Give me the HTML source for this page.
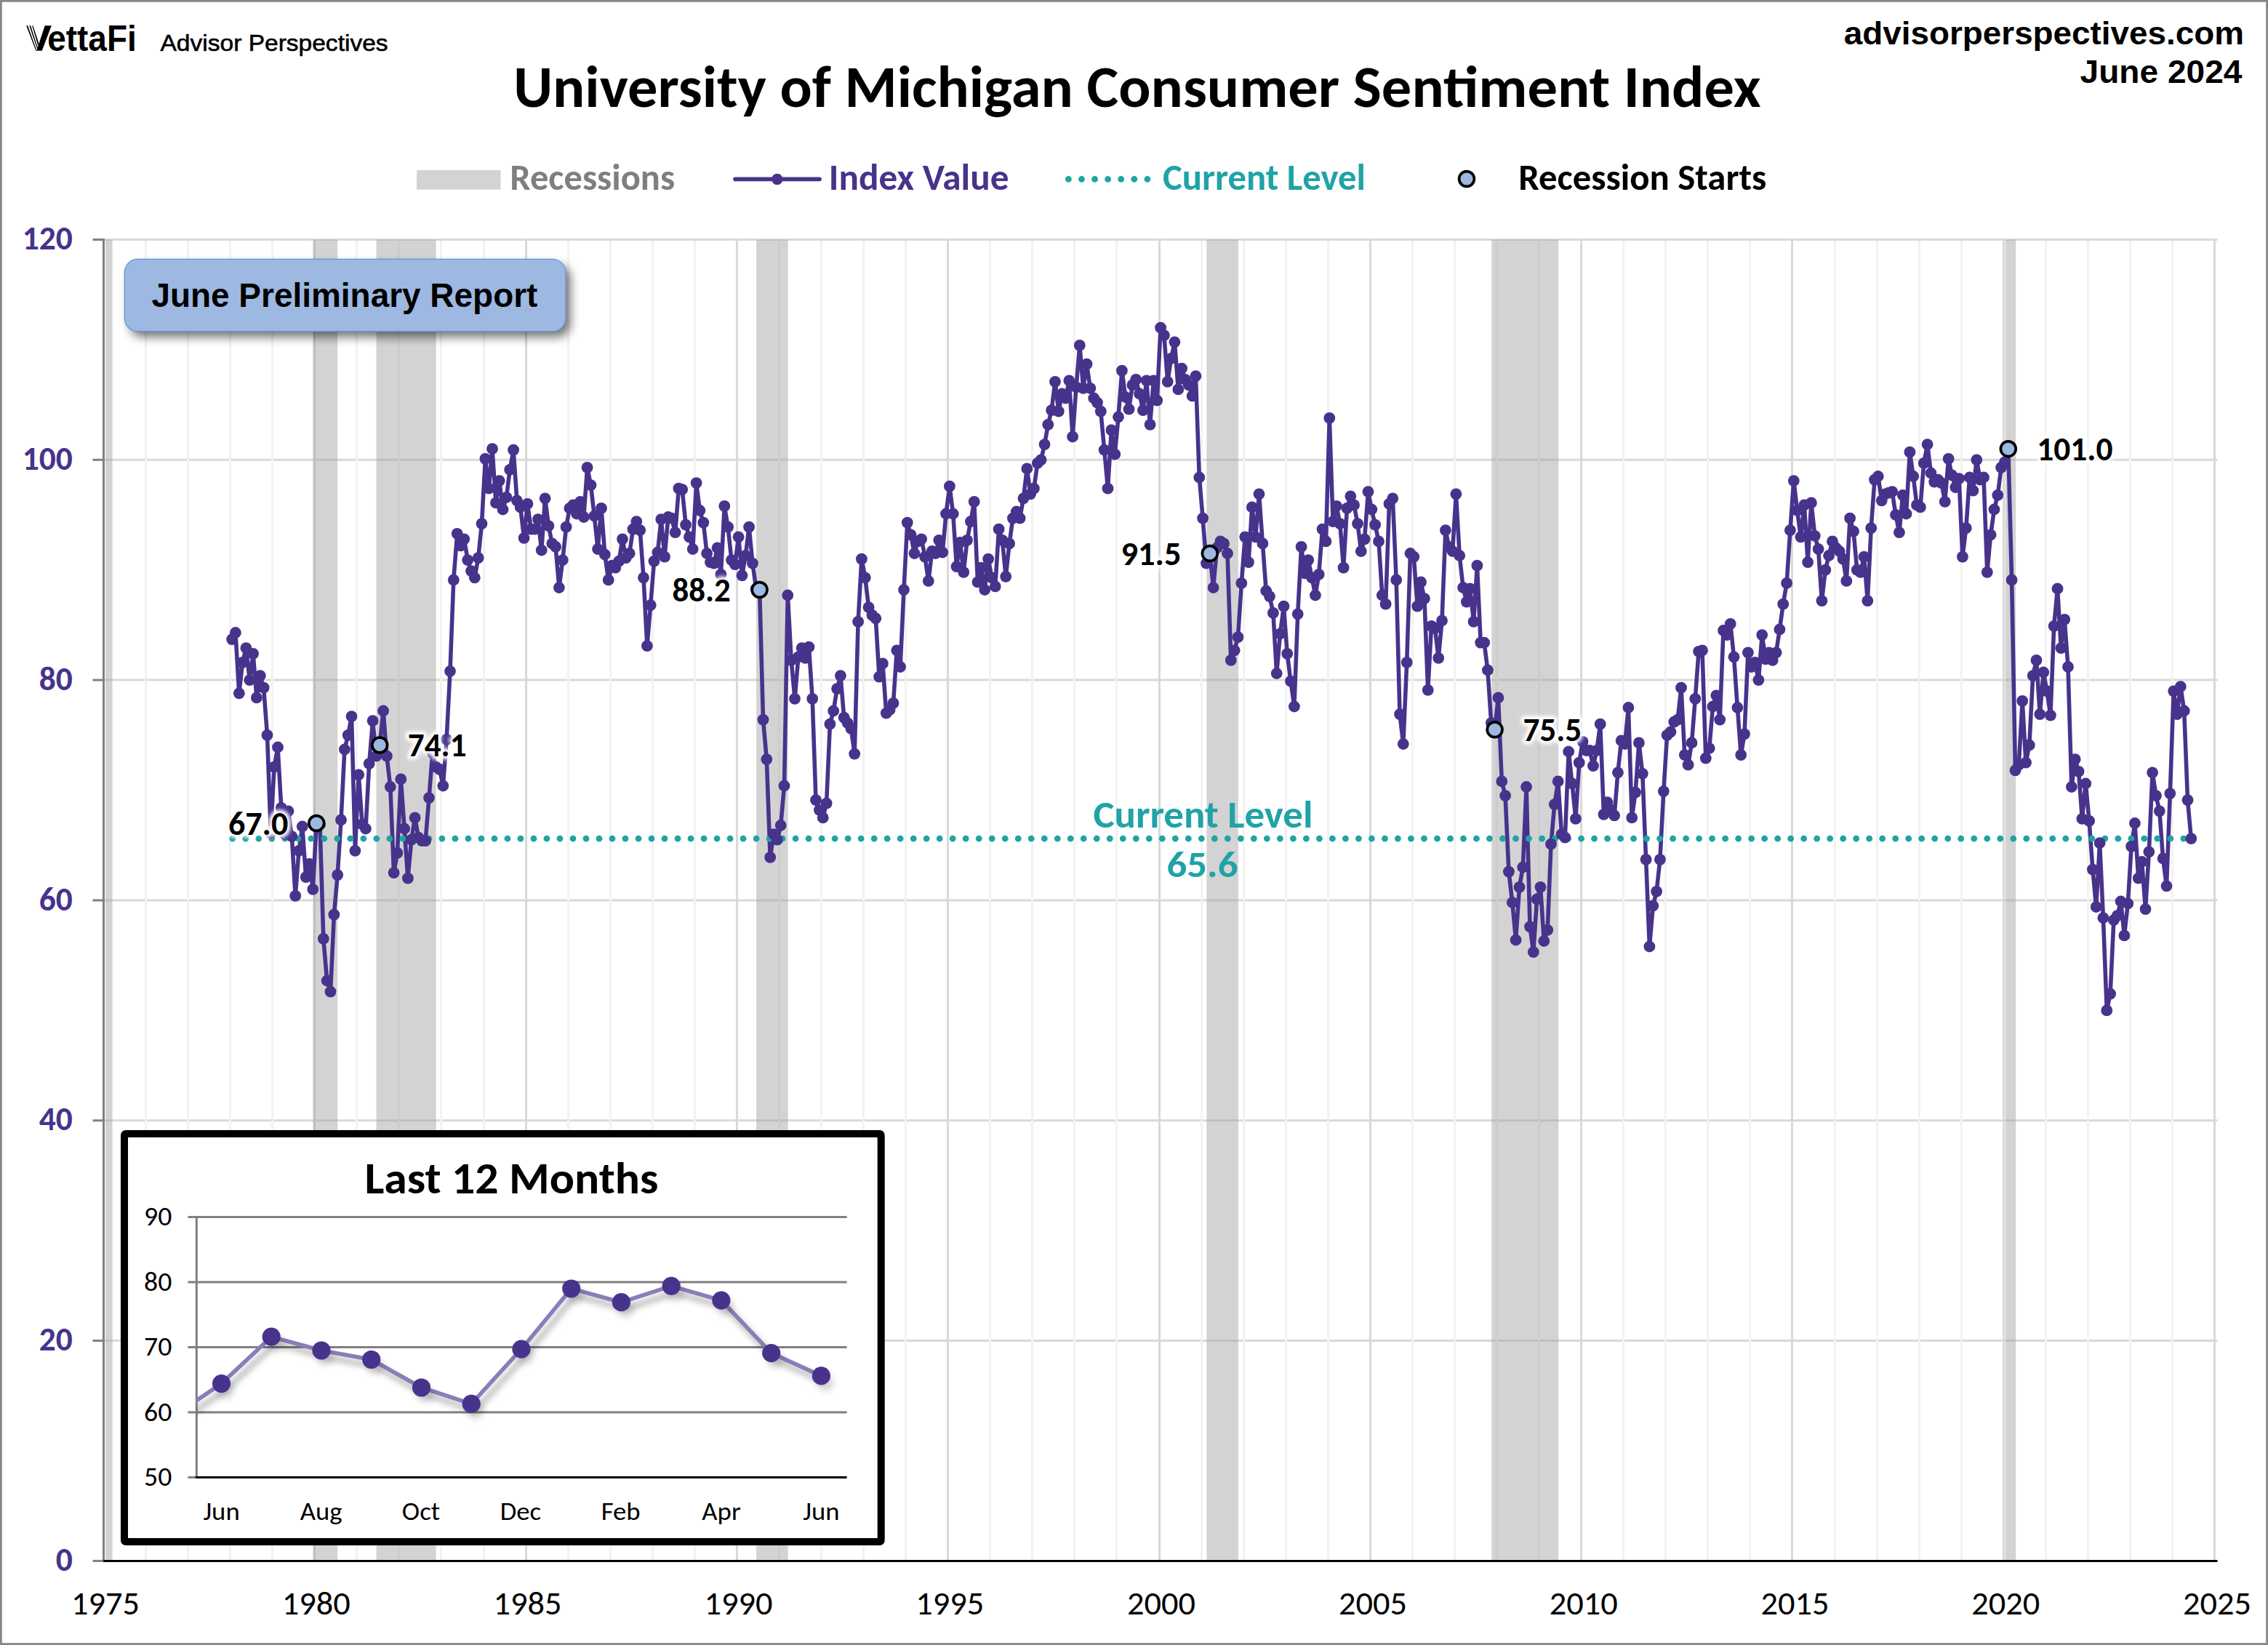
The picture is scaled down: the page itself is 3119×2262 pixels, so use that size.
<!DOCTYPE html>
<html lang="en"><head><meta charset="utf-8"><title>University of Michigan Consumer Sentiment Index</title>
<style>
html,body{margin:0;padding:0;background:#fff;}
body{width:3119px;height:2262px;overflow:hidden;}
svg{display:block;}
text{white-space:pre;}
.cal{font-family:Carlito, 'Liberation Sans', sans-serif;}
.ari{font-family:'Liberation Sans', sans-serif;}
.b{font-weight:700;}
</style></head><body>
<svg width="3119" height="2262" viewBox="0 0 3119 2262">
<defs>
<filter id="glow" x="-20%" y="-40%" width="140%" height="180%"><feGaussianBlur stdDeviation="2.6"/></filter>
<filter id="bshadow" x="-10%" y="-40%" width="120%" height="190%"><feGaussianBlur stdDeviation="7"/></filter>
<filter id="lshadow" x="-5%" y="-20%" width="110%" height="150%"><feGaussianBlur stdDeviation="4.5"/></filter>
<marker id="dot" markerWidth="17" markerHeight="17" refX="8.5" refY="8.5" markerUnits="userSpaceOnUse"><circle cx="8.5" cy="8.5" r="7.9" fill="#47338c"/></marker>
<clipPath id="insetclip"><rect x="270.3" y="1660" width="900" height="371.5"/></clipPath>

<polyline id="pl" points="319.1,879.1 323.9,870.0 328.8,953.3 333.6,910.9 338.4,891.2 343.3,935.1 348.1,898.8 352.9,959.4 357.8,929.1 362.6,945.7 367.5,1010.8 372.3,1145.6 377.1,1054.7 382.0,1027.5 386.8,1110.8 391.6,1147.1 396.5,1115.3 401.3,1150.1 406.2,1231.9 411.0,1169.8 415.8,1136.5 420.7,1206.2 425.5,1188.0 430.3,1222.8 435.2,1132.0 440.0,1133.5 444.8,1290.9 449.7,1348.5 454.5,1363.6 459.4,1257.6 464.2,1203.1 469.0,1127.4 473.9,1030.5 478.7,1010.8 483.5,985.1 488.4,1169.8 493.2,1065.3 498.1,1133.5 502.9,1139.5 507.7,1050.2 512.6,991.2 517.4,1039.6 522.2,1024.5 527.1,977.5 531.9,1039.6 536.8,1082.0 541.6,1200.1 546.4,1172.8 551.3,1071.4 556.1,1139.5 560.9,1207.7 565.8,1154.7 570.6,1124.4 575.5,1151.6 580.3,1156.2 585.1,1156.2 590.0,1097.1 594.8,1035.1 599.6,1054.7 604.5,1057.8 609.3,1080.5 614.1,1016.9 619.0,923.0 623.8,797.4 628.7,733.8 633.5,750.4 638.3,741.3 643.2,770.1 648.0,785.2 652.8,794.3 657.7,767.1 662.5,720.1 667.4,630.8 672.2,671.7 677.0,617.2 681.9,691.4 686.7,661.1 691.5,700.5 696.4,683.8 701.2,645.9 706.1,618.7 710.9,688.3 715.7,697.4 720.6,739.8 725.4,692.9 730.2,727.7 735.1,727.7 739.9,714.1 744.7,756.5 749.6,685.3 754.4,723.2 759.3,747.4 764.1,751.9 768.9,808.0 773.8,770.1 778.6,724.7 783.4,698.9 788.3,694.4 793.1,706.5 798.0,689.9 802.8,711.0 807.6,642.9 812.5,667.1 817.3,709.5 822.1,755.0 827.0,698.9 831.8,762.5 836.7,797.4 841.5,777.7 846.3,780.7 851.2,771.6 856.0,741.3 860.8,767.1 865.7,761.0 870.5,727.7 875.3,717.1 880.2,729.2 885.0,794.3 889.9,888.2 894.7,832.2 899.5,771.6 904.4,759.5 909.2,714.1 914.0,765.6 918.9,711.0 923.7,712.6 928.6,732.2 933.4,671.7 938.2,673.2 943.1,721.6 947.9,738.3 952.7,755.0 957.6,664.1 962.4,702.0 967.3,718.6 972.1,761.0 976.9,773.1 981.8,774.6 986.6,753.4 991.4,789.8 996.3,695.9 1001.1,724.7 1006.0,770.1 1010.8,776.2 1015.6,738.3 1020.5,791.3 1025.3,764.0 1030.1,724.7 1035.0,774.6 1039.8,809.5 1044.6,811.0 1049.5,989.6 1054.3,1044.1 1059.2,1178.9 1064.0,1147.1 1068.8,1154.7 1073.7,1135.0 1078.5,1080.5 1083.3,818.5 1088.2,907.9 1093.0,960.9 1097.9,903.3 1102.7,891.2 1107.5,904.9 1112.4,889.7 1117.2,960.9 1122.0,1100.2 1126.9,1113.8 1131.7,1124.4 1136.6,1104.7 1141.4,995.7 1146.2,977.5 1151.1,947.2 1155.9,929.1 1160.7,986.6 1165.6,994.2 1170.4,1001.8 1175.2,1036.6 1180.1,854.9 1184.9,768.6 1189.8,794.3 1194.6,835.2 1199.4,845.8 1204.3,850.3 1209.1,930.6 1213.9,912.4 1218.8,980.6 1223.6,976.0 1228.5,966.9 1233.3,894.3 1238.1,917.0 1243.0,811.0 1247.8,718.6 1252.6,735.3 1257.5,761.0 1262.3,744.4 1267.2,741.3 1272.0,765.6 1276.8,798.9 1281.7,758.0 1286.5,761.0 1291.3,742.8 1296.2,759.5 1301.0,706.5 1305.9,668.7 1310.7,706.5 1315.5,779.2 1320.4,745.9 1325.2,786.8 1330.0,742.8 1334.9,717.1 1339.7,689.9 1344.5,800.4 1349.4,780.7 1354.2,811.0 1359.1,768.6 1363.9,794.3 1368.7,806.4 1373.6,727.7 1378.4,742.8 1383.2,792.8 1388.1,747.4 1392.9,712.6 1397.8,703.5 1402.6,712.6 1407.4,685.3 1412.3,644.4 1417.1,679.3 1421.9,671.7 1426.8,636.9 1431.6,632.3 1436.5,611.1 1441.3,583.9 1446.1,564.2 1451.0,524.8 1455.8,565.7 1460.6,541.5 1465.5,547.5 1470.3,523.3 1475.1,600.5 1480.0,532.4 1484.8,474.9 1489.7,533.9 1494.5,500.6 1499.3,533.9 1504.2,547.5 1509.0,553.6 1513.8,565.7 1518.7,618.7 1523.5,671.7 1528.4,591.4 1533.2,624.7 1538.0,573.3 1542.9,509.7 1547.7,546.0 1552.5,562.7 1557.4,529.4 1562.2,521.8 1567.1,541.5 1571.9,564.2 1576.7,523.3 1581.6,583.9 1586.4,523.3 1591.2,550.6 1596.1,450.6 1600.9,461.2 1605.7,524.8 1610.6,493.0 1615.4,470.3 1620.3,535.4 1625.1,506.6 1629.9,521.8 1634.8,529.4 1639.6,544.5 1644.4,517.2 1649.3,656.5 1654.1,712.6 1659.0,774.6 1663.8,761.0 1668.6,808.0 1673.5,753.4 1678.3,744.4 1683.1,747.4 1688.0,761.0 1692.8,907.9 1697.7,894.3 1702.5,876.1 1707.3,801.9 1712.2,738.3 1717.0,773.1 1721.8,697.4 1726.7,738.3 1731.5,679.3 1736.4,747.4 1741.2,812.5 1746.0,820.1 1750.9,842.8 1755.7,926.0 1760.5,871.5 1765.4,833.7 1770.2,898.8 1775.0,936.6 1779.9,971.5 1784.7,844.3 1789.6,751.9 1794.4,788.3 1799.2,770.1 1804.1,794.3 1808.9,818.5 1813.7,789.8 1818.6,727.7 1823.4,744.4 1828.3,574.8 1833.1,717.1 1837.9,695.9 1842.8,720.1 1847.6,780.7 1852.4,698.9 1857.3,682.3 1862.1,694.4 1867.0,720.1 1871.8,758.0 1876.6,741.3 1881.5,676.2 1886.3,700.5 1891.1,721.6 1896.0,744.4 1900.8,818.5 1905.6,830.7 1910.5,692.9 1915.3,685.3 1920.2,797.4 1925.0,982.1 1929.8,1023.0 1934.7,910.9 1939.5,761.0 1944.3,765.6 1949.2,833.7 1954.0,800.4 1958.9,823.1 1963.7,948.8 1968.5,860.9 1973.4,864.0 1978.2,904.9 1983.0,853.4 1987.9,729.2 1992.7,751.9 1997.6,758.0 2002.4,679.3 2007.2,764.0 2012.1,808.0 2016.9,827.6 2021.7,809.5 2026.6,854.9 2031.4,777.7 2036.2,883.7 2041.1,883.7 2045.9,921.5 2050.8,994.2 2055.6,1003.3 2060.4,959.4 2065.3,1074.4 2070.1,1094.1 2074.9,1198.6 2079.8,1241.0 2084.6,1292.5 2089.5,1219.8 2094.3,1192.5 2099.1,1082.0 2104.0,1274.3 2108.8,1309.1 2113.6,1236.4 2118.5,1219.8 2123.3,1294.0 2128.2,1278.8 2133.0,1160.7 2137.8,1106.2 2142.7,1074.4 2147.5,1147.1 2152.3,1151.6 2157.2,1033.5 2162.0,1077.5 2166.9,1125.9 2171.7,1048.7 2176.5,1019.9 2181.4,1032.0 2186.2,1032.0 2191.0,1053.2 2195.9,1032.0 2200.7,995.7 2205.5,1119.9 2210.4,1103.2 2215.2,1113.8 2220.1,1121.4 2224.9,1062.3 2229.7,1018.4 2234.6,1023.0 2239.4,973.0 2244.2,1124.4 2249.1,1089.6 2253.9,1021.4 2258.8,1063.8 2263.6,1181.9 2268.4,1301.5 2273.3,1245.5 2278.1,1225.8 2282.9,1181.9 2287.8,1088.1 2292.6,1010.8 2297.5,1006.3 2302.3,992.7 2307.1,989.6 2312.0,945.7 2316.8,1038.1 2321.6,1051.7 2326.5,1021.4 2331.3,960.9 2336.1,895.8 2341.0,894.3 2345.8,1042.6 2350.7,1029.0 2355.5,971.5 2360.3,956.3 2365.2,989.6 2370.0,867.0 2374.8,873.1 2379.7,857.9 2384.5,903.3 2389.4,973.0 2394.2,1038.1 2399.0,1009.3 2403.9,897.3 2408.7,917.0 2413.5,910.9 2418.4,935.1 2423.2,873.1 2428.1,906.4 2432.9,897.3 2437.7,907.9 2442.6,897.3 2447.4,865.5 2452.2,830.7 2457.1,801.9 2461.9,729.2 2466.8,661.1 2471.6,702.0 2476.4,738.3 2481.3,694.4 2486.1,773.1 2490.9,691.4 2495.8,736.8 2500.6,755.0 2505.4,826.1 2510.3,783.7 2515.1,764.0 2520.0,744.4 2524.8,753.4 2529.6,758.0 2534.5,768.6 2539.3,798.9 2544.1,712.6 2549.0,730.7 2553.8,783.7 2558.7,786.8 2563.5,765.6 2568.3,826.1 2573.2,726.2 2578.0,659.6 2582.8,655.0 2587.7,688.3 2592.5,679.3 2597.4,677.7 2602.2,676.2 2607.0,708.0 2611.9,732.2 2616.7,680.8 2621.5,706.5 2626.4,621.7 2631.2,655.0 2636.0,694.4 2640.9,697.4 2645.7,636.9 2650.6,611.1 2655.4,650.5 2660.2,662.6 2665.1,659.6 2669.9,664.1 2674.7,689.9 2679.6,630.8 2684.4,653.5 2689.3,670.2 2694.1,658.1 2698.9,765.6 2703.8,726.2 2708.6,656.5 2713.4,674.7 2718.3,632.3 2723.1,659.6 2728.0,656.5 2732.8,786.8 2737.6,735.3 2742.5,700.5 2747.3,680.8 2752.1,642.9 2757.0,635.3 2761.8,617.2 2766.6,797.4 2771.5,1059.3 2776.3,1051.7 2781.2,963.9 2786.0,1048.7 2790.8,1024.5 2795.7,929.1 2800.5,907.9 2805.3,982.1 2810.2,924.5 2815.0,950.3 2819.9,983.6 2824.7,860.9 2829.5,809.5 2834.4,891.2 2839.2,851.9 2844.0,917.0 2848.9,1082.0 2853.7,1044.1 2858.6,1060.8 2863.4,1125.9 2868.2,1077.5 2873.1,1128.9 2877.9,1195.6 2882.7,1247.0 2887.6,1159.2 2892.4,1262.2 2897.3,1389.4 2902.1,1366.6 2906.9,1265.2 2911.8,1259.1 2916.6,1239.5 2921.4,1286.4 2926.3,1242.5 2931.1,1163.8 2935.9,1132.0 2940.8,1207.7 2945.6,1185.0 2950.5,1250.1 2955.3,1171.3 2960.1,1062.3 2965.0,1094.1 2969.8,1115.3 2974.6,1180.4 2979.5,1218.3 2984.3,1091.1 2989.2,950.3 2994.0,982.1 2998.8,944.2 3003.7,977.5 3008.5,1100.2 3013.3,1153.2"/>
</defs>
<rect x="0" y="0" width="3119" height="2262" fill="#ffffff"/>
<rect x="1.4" y="1.4" width="3116.2" height="2259.2" fill="none" stroke="#878787" stroke-width="2.8"/>
<g id="grid" stroke-width="3">
<line x1="144.0" y1="1843.6" x2="3049.5" y2="1843.6" stroke="#d9d9d9"/>
<line x1="144.0" y1="1540.8" x2="3049.5" y2="1540.8" stroke="#d9d9d9"/>
<line x1="144.0" y1="1238.0" x2="3049.5" y2="1238.0" stroke="#d9d9d9"/>
<line x1="144.0" y1="935.1" x2="3049.5" y2="935.1" stroke="#d9d9d9"/>
<line x1="144.0" y1="632.3" x2="3049.5" y2="632.3" stroke="#d9d9d9"/>
<line x1="144.0" y1="329.5" x2="3049.5" y2="329.5" stroke="#d9d9d9"/>
<line x1="200.5" y1="331.0" x2="200.5" y2="2144.9" stroke="#f2f2f2"/>
<line x1="258.5" y1="331.0" x2="258.5" y2="2144.9" stroke="#f2f2f2"/>
<line x1="316.5" y1="331.0" x2="316.5" y2="2144.9" stroke="#f2f2f2"/>
<line x1="374.5" y1="331.0" x2="374.5" y2="2144.9" stroke="#f2f2f2"/>
<line x1="432.5" y1="331.0" x2="432.5" y2="2144.9" stroke="#d9d9d9"/>
<line x1="490.5" y1="331.0" x2="490.5" y2="2144.9" stroke="#f2f2f2"/>
<line x1="548.5" y1="331.0" x2="548.5" y2="2144.9" stroke="#f2f2f2"/>
<line x1="606.5" y1="331.0" x2="606.5" y2="2144.9" stroke="#f2f2f2"/>
<line x1="665.5" y1="331.0" x2="665.5" y2="2144.9" stroke="#f2f2f2"/>
<line x1="723.5" y1="331.0" x2="723.5" y2="2144.9" stroke="#d9d9d9"/>
<line x1="781.5" y1="331.0" x2="781.5" y2="2144.9" stroke="#f2f2f2"/>
<line x1="839.5" y1="331.0" x2="839.5" y2="2144.9" stroke="#f2f2f2"/>
<line x1="897.5" y1="331.0" x2="897.5" y2="2144.9" stroke="#f2f2f2"/>
<line x1="955.5" y1="331.0" x2="955.5" y2="2144.9" stroke="#f2f2f2"/>
<line x1="1013.5" y1="331.0" x2="1013.5" y2="2144.9" stroke="#d9d9d9"/>
<line x1="1071.5" y1="331.0" x2="1071.5" y2="2144.9" stroke="#f2f2f2"/>
<line x1="1129.5" y1="331.0" x2="1129.5" y2="2144.9" stroke="#f2f2f2"/>
<line x1="1187.5" y1="331.0" x2="1187.5" y2="2144.9" stroke="#f2f2f2"/>
<line x1="1245.5" y1="331.0" x2="1245.5" y2="2144.9" stroke="#f2f2f2"/>
<line x1="1303.5" y1="331.0" x2="1303.5" y2="2144.9" stroke="#d9d9d9"/>
<line x1="1361.5" y1="331.0" x2="1361.5" y2="2144.9" stroke="#f2f2f2"/>
<line x1="1419.5" y1="331.0" x2="1419.5" y2="2144.9" stroke="#f2f2f2"/>
<line x1="1477.5" y1="331.0" x2="1477.5" y2="2144.9" stroke="#f2f2f2"/>
<line x1="1535.5" y1="331.0" x2="1535.5" y2="2144.9" stroke="#f2f2f2"/>
<line x1="1594.5" y1="331.0" x2="1594.5" y2="2144.9" stroke="#d9d9d9"/>
<line x1="1652.5" y1="331.0" x2="1652.5" y2="2144.9" stroke="#f2f2f2"/>
<line x1="1710.5" y1="331.0" x2="1710.5" y2="2144.9" stroke="#f2f2f2"/>
<line x1="1768.5" y1="331.0" x2="1768.5" y2="2144.9" stroke="#f2f2f2"/>
<line x1="1826.5" y1="331.0" x2="1826.5" y2="2144.9" stroke="#f2f2f2"/>
<line x1="1884.5" y1="331.0" x2="1884.5" y2="2144.9" stroke="#d9d9d9"/>
<line x1="1942.5" y1="331.0" x2="1942.5" y2="2144.9" stroke="#f2f2f2"/>
<line x1="2000.5" y1="331.0" x2="2000.5" y2="2144.9" stroke="#f2f2f2"/>
<line x1="2058.5" y1="331.0" x2="2058.5" y2="2144.9" stroke="#f2f2f2"/>
<line x1="2116.5" y1="331.0" x2="2116.5" y2="2144.9" stroke="#f2f2f2"/>
<line x1="2174.5" y1="331.0" x2="2174.5" y2="2144.9" stroke="#d9d9d9"/>
<line x1="2232.5" y1="331.0" x2="2232.5" y2="2144.9" stroke="#f2f2f2"/>
<line x1="2290.5" y1="331.0" x2="2290.5" y2="2144.9" stroke="#f2f2f2"/>
<line x1="2348.5" y1="331.0" x2="2348.5" y2="2144.9" stroke="#f2f2f2"/>
<line x1="2406.5" y1="331.0" x2="2406.5" y2="2144.9" stroke="#f2f2f2"/>
<line x1="2464.5" y1="331.0" x2="2464.5" y2="2144.9" stroke="#d9d9d9"/>
<line x1="2523.5" y1="331.0" x2="2523.5" y2="2144.9" stroke="#f2f2f2"/>
<line x1="2581.5" y1="331.0" x2="2581.5" y2="2144.9" stroke="#f2f2f2"/>
<line x1="2639.5" y1="331.0" x2="2639.5" y2="2144.9" stroke="#f2f2f2"/>
<line x1="2697.5" y1="331.0" x2="2697.5" y2="2144.9" stroke="#f2f2f2"/>
<line x1="2755.5" y1="331.0" x2="2755.5" y2="2144.9" stroke="#d9d9d9"/>
<line x1="2813.5" y1="331.0" x2="2813.5" y2="2144.9" stroke="#f2f2f2"/>
<line x1="2871.5" y1="331.0" x2="2871.5" y2="2144.9" stroke="#f2f2f2"/>
<line x1="2929.5" y1="331.0" x2="2929.5" y2="2144.9" stroke="#f2f2f2"/>
<line x1="2987.5" y1="331.0" x2="2987.5" y2="2144.9" stroke="#f2f2f2"/>
<line x1="3045.5" y1="331.0" x2="3045.5" y2="2144.9" stroke="#d9d9d9"/>
</g>
<g id="recessions" fill="#a2a2a2" fill-opacity="0.474">
<rect x="145.0" y="329.5" width="9.6" height="1815.4"/>
<rect x="430.4" y="329.5" width="33.8" height="1815.4"/>
<rect x="517.5" y="329.5" width="82.2" height="1815.4"/>
<rect x="1040.1" y="329.5" width="43.5" height="1815.4"/>
<rect x="1659.4" y="329.5" width="43.5" height="1815.4"/>
<rect x="2051.3" y="329.5" width="91.9" height="1815.4"/>
<rect x="2757.7" y="329.5" width="14.5" height="1815.4"/>
</g>
<g id="axes" stroke="#808080" stroke-width="3">
<line x1="142.5" y1="328.0" x2="142.5" y2="2147.9"/>
<line x1="127.5" y1="2146.4" x2="144.0" y2="2146.4"/>
<line x1="127.5" y1="1843.6" x2="144.0" y2="1843.6"/>
<line x1="127.5" y1="1540.8" x2="144.0" y2="1540.8"/>
<line x1="127.5" y1="1238.0" x2="144.0" y2="1238.0"/>
<line x1="127.5" y1="935.1" x2="144.0" y2="935.1"/>
<line x1="127.5" y1="632.3" x2="144.0" y2="632.3"/>
<line x1="127.5" y1="329.5" x2="144.0" y2="329.5"/>
</g>
<line x1="142.2" y1="2146.4" x2="3049.5" y2="2146.4" stroke="#000" stroke-width="3"/>
<use href="#pl" fill="none" stroke="#47338c" stroke-width="5.6" stroke-linejoin="round" stroke-linecap="round"/>
<line x1="319.8" y1="1153.2" x2="3010" y2="1153.2" stroke="#1fa3a7" stroke-width="8.8" stroke-linecap="round" stroke-dasharray="0 18.007"/>
<use href="#pl" fill="none" stroke="none" marker-start="url(#dot)" marker-mid="url(#dot)" marker-end="url(#dot)"/>
<g id="starts" fill="#9db8e1" stroke="#000" stroke-width="3.7">
<circle cx="435.2" cy="1132.0" r="10.4"/>
<circle cx="522.2" cy="1024.5" r="10.4"/>
<circle cx="1044.6" cy="811.0" r="10.4"/>
<circle cx="1663.8" cy="761.0" r="10.4"/>
<circle cx="2055.6" cy="1003.3" r="10.4"/>
<circle cx="2761.8" cy="617.2" r="10.4"/>
</g>
<g id="labels">
<text x="314.0" y="1147.7" font-size="46" class="cal b" fill="#fff" textLength="82.2" lengthAdjust="spacingAndGlyphs" stroke="#fff" stroke-width="9" stroke-linejoin="round" filter="url(#glow)">67.0</text>
<text x="560.8" y="1040.2" font-size="46" class="cal b" fill="#fff" textLength="80.8" lengthAdjust="spacingAndGlyphs" stroke="#fff" stroke-width="9" stroke-linejoin="round" filter="url(#glow)">74.1</text>
<text x="924.5" y="826.7" font-size="46" class="cal b" fill="#fff" textLength="80.2" lengthAdjust="spacingAndGlyphs" stroke="#fff" stroke-width="9" stroke-linejoin="round" filter="url(#glow)">88.2</text>
<text x="1541.5" y="776.7" font-size="46" class="cal b" fill="#fff" textLength="82.9" lengthAdjust="spacingAndGlyphs" stroke="#fff" stroke-width="9" stroke-linejoin="round" filter="url(#glow)">91.5</text>
<text x="2094.4" y="1019.0" font-size="46" class="cal b" fill="#fff" textLength="80.9" lengthAdjust="spacingAndGlyphs" stroke="#fff" stroke-width="9" stroke-linejoin="round" filter="url(#glow)">75.5</text>
<text x="2801.3" y="632.9" font-size="46" class="cal b" fill="#fff" textLength="104.2" lengthAdjust="spacingAndGlyphs" stroke="#fff" stroke-width="9" stroke-linejoin="round" filter="url(#glow)">101.0</text>
<text x="220.5" y="69.7" font-size="32.2" class="ari" fill="#000" textLength="313.1" lengthAdjust="spacingAndGlyphs" stroke="#000" stroke-width="0.6">Advisor Perspectives</text>
<text x="2535.8" y="60.5" font-size="45" class="ari b" fill="#000" textLength="550.2" lengthAdjust="spacingAndGlyphs">advisorperspectives.com</text>
<text x="2860.6" y="113.7" font-size="45" class="ari b" fill="#000" textLength="222.8" lengthAdjust="spacingAndGlyphs">June 2024</text>
<text x="706.2" y="146.7" font-size="81.5" class="cal b" fill="#000" textLength="1715.4" lengthAdjust="spacingAndGlyphs">University of Michigan Consumer Sentiment Index</text>
<text x="701.2" y="261.1" font-size="49.5" class="cal b" fill="#7f7f7f" textLength="226.9" lengthAdjust="spacingAndGlyphs">Recessions</text>
<text x="1139.8" y="261.2" font-size="49.5" class="cal b" fill="#47338c" textLength="247.7" lengthAdjust="spacingAndGlyphs">Index Value</text>
<text x="1598.9" y="261.1" font-size="49.5" class="cal b" fill="#1fa3a7" textLength="279.0" lengthAdjust="spacingAndGlyphs">Current Level</text>
<text x="2088.2" y="261.2" font-size="49.5" class="cal b" fill="#000" textLength="341.1" lengthAdjust="spacingAndGlyphs">Recession Starts</text>
<text x="1503.4" y="1137.8" font-size="51.5" class="cal b" fill="#1fa3a7" textLength="302.0" lengthAdjust="spacingAndGlyphs">Current Level</text>
<text x="1604.5" y="1205.9" font-size="51.3" class="cal b" fill="#1fa3a7" textLength="98.0" lengthAdjust="spacingAndGlyphs">65.6</text>
<text x="314.0" y="1147.7" font-size="46" class="cal b" fill="#000" textLength="82.2" lengthAdjust="spacingAndGlyphs">67.0</text>
<text x="560.8" y="1040.2" font-size="46" class="cal b" fill="#000" textLength="80.8" lengthAdjust="spacingAndGlyphs">74.1</text>
<text x="924.5" y="826.7" font-size="46" class="cal b" fill="#000" textLength="80.2" lengthAdjust="spacingAndGlyphs">88.2</text>
<text x="1541.5" y="776.7" font-size="46" class="cal b" fill="#000" textLength="82.9" lengthAdjust="spacingAndGlyphs">91.5</text>
<text x="2094.4" y="1019.0" font-size="46" class="cal b" fill="#000" textLength="80.9" lengthAdjust="spacingAndGlyphs">75.5</text>
<text x="2801.3" y="632.9" font-size="46" class="cal b" fill="#000" textLength="104.2" lengthAdjust="spacingAndGlyphs">101.0</text>
<text x="76.7" y="2160.0" font-size="45.5" class="cal b" fill="#47338c" textLength="23.1" lengthAdjust="spacingAndGlyphs">0</text>
<text x="53.7" y="1857.2" font-size="45.5" class="cal b" fill="#47338c" textLength="46.1" lengthAdjust="spacingAndGlyphs">20</text>
<text x="53.7" y="1554.4" font-size="45.5" class="cal b" fill="#47338c" textLength="46.1" lengthAdjust="spacingAndGlyphs">40</text>
<text x="53.7" y="1251.5" font-size="45.5" class="cal b" fill="#47338c" textLength="46.1" lengthAdjust="spacingAndGlyphs">60</text>
<text x="53.7" y="948.7" font-size="45.5" class="cal b" fill="#47338c" textLength="46.1" lengthAdjust="spacingAndGlyphs">80</text>
<text x="30.7" y="645.9" font-size="45.5" class="cal b" fill="#47338c" textLength="69.2" lengthAdjust="spacingAndGlyphs">100</text>
<text x="30.7" y="343.1" font-size="45.5" class="cal b" fill="#47338c" textLength="69.2" lengthAdjust="spacingAndGlyphs">120</text>
<text x="98.0" y="2219.7" font-size="45" class="cal" fill="#000" textLength="94.0" lengthAdjust="spacingAndGlyphs">1975</text>
<text x="387.8" y="2219.7" font-size="45" class="cal" fill="#000" textLength="94.0" lengthAdjust="spacingAndGlyphs">1980</text>
<text x="678.6" y="2219.7" font-size="45" class="cal" fill="#000" textLength="94.0" lengthAdjust="spacingAndGlyphs">1985</text>
<text x="968.4" y="2219.7" font-size="45" class="cal" fill="#000" textLength="94.0" lengthAdjust="spacingAndGlyphs">1990</text>
<text x="1259.2" y="2219.7" font-size="45" class="cal" fill="#000" textLength="94.0" lengthAdjust="spacingAndGlyphs">1995</text>
<text x="1550.1" y="2219.7" font-size="45" class="cal" fill="#000" textLength="94.0" lengthAdjust="spacingAndGlyphs">2000</text>
<text x="1840.9" y="2219.7" font-size="45" class="cal" fill="#000" textLength="94.0" lengthAdjust="spacingAndGlyphs">2005</text>
<text x="2130.7" y="2219.7" font-size="45" class="cal" fill="#000" textLength="94.0" lengthAdjust="spacingAndGlyphs">2010</text>
<text x="2421.5" y="2219.7" font-size="45" class="cal" fill="#000" textLength="94.0" lengthAdjust="spacingAndGlyphs">2015</text>
<text x="2711.3" y="2219.7" font-size="45" class="cal" fill="#000" textLength="94.0" lengthAdjust="spacingAndGlyphs">2020</text>
<text x="3002.1" y="2219.7" font-size="45" class="cal" fill="#000" textLength="94.0" lengthAdjust="spacingAndGlyphs">2025</text>
</g>
<g id="logo">
<text x="36.9" y="69" font-size="48" class="ari b" fill="#000"><tspan stroke="#000" stroke-width="1.6" stroke-linejoin="miter" textLength="33" lengthAdjust="spacingAndGlyphs">V</tspan><tspan x="65.2" y="69.8" style="font-size:50px" textLength="122.6" lengthAdjust="spacingAndGlyphs">ettaFi</tspan></text>
<path d="M37.81 34.2L39.97 34.2L51.17 67.3L50.43 69.52Z M41.81 34.2L43.81 34.2L52.52 63.25L51.79 65.46Z" fill="#fff"/>
</g>
<g id="legend">
<rect x="573" y="234" width="115.5" height="26.7" fill="#d3d3d3"/>
<line x1="1011" y1="246.4" x2="1127" y2="246.4" stroke="#47338c" stroke-width="5.6" stroke-linecap="round"/>
<circle cx="1068.8" cy="246.4" r="7.75" fill="#47338c"/>
<line x1="1469.4" y1="246.4" x2="1585" y2="246.4" stroke="#1fa3a7" stroke-width="8.8" stroke-linecap="round" stroke-dasharray="0 18.08"/>
<circle cx="2017" cy="246" r="10.4" fill="#9db8e1" stroke="#000" stroke-width="3.7"/>
</g>
<g id="reportbox">
<rect x="178.5" y="364.5" width="606" height="99" rx="18" fill="#000" opacity="0.55" filter="url(#bshadow)"/>
<rect x="171.3" y="356.4" width="606.6" height="99.3" rx="18" fill="#9db8e1" stroke="#6592d4" stroke-width="1.2"/>
<text x="208.4" y="421.8" font-size="45.6" class="ari b" fill="#000" textLength="531.0" lengthAdjust="spacingAndGlyphs">June Preliminary Report</text>
</g>
<g id="inset">
<rect x="171" y="1559" width="1040.7" height="561" rx="2" fill="#fff" stroke="#000" stroke-width="10" stroke-linejoin="round"/>
<line x1="258.4" y1="1942.0" x2="1164.6" y2="1942.0" stroke="#808080" stroke-width="3"/>
<line x1="258.4" y1="1852.5" x2="1164.6" y2="1852.5" stroke="#808080" stroke-width="3"/>
<line x1="258.4" y1="1763.0" x2="1164.6" y2="1763.0" stroke="#808080" stroke-width="3"/>
<line x1="258.4" y1="1673.5" x2="1164.6" y2="1673.5" stroke="#808080" stroke-width="3"/>
<line x1="270.3" y1="1672.0" x2="270.3" y2="2031.5" stroke="#808080" stroke-width="3"/>
<line x1="258.4" y1="2031.5" x2="270.3" y2="2031.5" stroke="#808080" stroke-width="3"/>
<g clip-path="url(#insetclip)">
<polyline points="235.8,1949.2 304.5,1902.6 373.2,1838.2 442.0,1857.0 510.7,1869.5 579.5,1908.0 648.2,1930.4 717.0,1855.2 785.7,1772.0 854.4,1790.7 923.2,1768.4 991.9,1788.1 1060.7,1860.6 1129.4,1891.9" fill="none" stroke="#000" stroke-opacity="0.3" stroke-width="6.5" transform="translate(5.5,9)" filter="url(#lshadow)"/>
<polyline points="235.8,1949.2 304.5,1902.6 373.2,1838.2 442.0,1857.0 510.7,1869.5 579.5,1908.0 648.2,1930.4 717.0,1855.2 785.7,1772.0 854.4,1790.7 923.2,1768.4 991.9,1788.1 1060.7,1860.6 1129.4,1891.9" fill="none" stroke="#8a7eb8" stroke-width="5.6" stroke-linejoin="round"/>
</g>
<g fill="#000" fill-opacity="0.14" filter="url(#lshadow)">
<circle cx="310.0" cy="1911.6" r="12"/>
<circle cx="378.7" cy="1847.2" r="12"/>
<circle cx="447.5" cy="1866.0" r="12"/>
<circle cx="516.2" cy="1878.5" r="12"/>
<circle cx="585.0" cy="1917.0" r="12"/>
<circle cx="653.7" cy="1939.4" r="12"/>
<circle cx="722.5" cy="1864.2" r="12"/>
<circle cx="791.2" cy="1781.0" r="12"/>
<circle cx="859.9" cy="1799.7" r="12"/>
<circle cx="928.7" cy="1777.4" r="12"/>
<circle cx="997.4" cy="1797.1" r="12"/>
<circle cx="1066.2" cy="1869.6" r="12"/>
<circle cx="1134.9" cy="1900.9" r="12"/>
</g>
<g fill="#47338c">
<circle cx="304.5" cy="1902.6" r="12.6"/>
<circle cx="373.2" cy="1838.2" r="12.6"/>
<circle cx="442.0" cy="1857.0" r="12.6"/>
<circle cx="510.7" cy="1869.5" r="12.6"/>
<circle cx="579.5" cy="1908.0" r="12.6"/>
<circle cx="648.2" cy="1930.4" r="12.6"/>
<circle cx="717.0" cy="1855.2" r="12.6"/>
<circle cx="785.7" cy="1772.0" r="12.6"/>
<circle cx="854.4" cy="1790.7" r="12.6"/>
<circle cx="923.2" cy="1768.4" r="12.6"/>
<circle cx="991.9" cy="1788.1" r="12.6"/>
<circle cx="1060.7" cy="1860.6" r="12.6"/>
<circle cx="1129.4" cy="1891.9" r="12.6"/>
</g>
<line x1="268.8" y1="2031.5" x2="1164.6" y2="2031.5" stroke="#000" stroke-width="3"/>
<text x="198.0" y="2043.1" font-size="36" class="cal" fill="#000" textLength="38.3" lengthAdjust="spacingAndGlyphs">50</text>
<text x="198.0" y="1953.6" font-size="36" class="cal" fill="#000" textLength="38.3" lengthAdjust="spacingAndGlyphs">60</text>
<text x="198.0" y="1864.1" font-size="36" class="cal" fill="#000" textLength="38.3" lengthAdjust="spacingAndGlyphs">70</text>
<text x="198.0" y="1774.6" font-size="36" class="cal" fill="#000" textLength="38.3" lengthAdjust="spacingAndGlyphs">80</text>
<text x="198.0" y="1685.1" font-size="36" class="cal" fill="#000" textLength="38.3" lengthAdjust="spacingAndGlyphs">90</text>
<text x="279.4" y="2089.5" font-size="35" class="cal" fill="#000" textLength="50.3" lengthAdjust="spacingAndGlyphs">Jun</text>
<text x="412.7" y="2089.5" font-size="35" class="cal" fill="#000" textLength="57.9" lengthAdjust="spacingAndGlyphs">Aug</text>
<text x="552.8" y="2089.5" font-size="35" class="cal" fill="#000" textLength="52.2" lengthAdjust="spacingAndGlyphs">Oct</text>
<text x="687.7" y="2089.5" font-size="35" class="cal" fill="#000" textLength="56.4" lengthAdjust="spacingAndGlyphs">Dec</text>
<text x="826.7" y="2089.5" font-size="35" class="cal" fill="#000" textLength="53.9" lengthAdjust="spacingAndGlyphs">Feb</text>
<text x="965.3" y="2089.5" font-size="35" class="cal" fill="#000" textLength="53.4" lengthAdjust="spacingAndGlyphs">Apr</text>
<text x="1104.3" y="2089.5" font-size="35" class="cal" fill="#000" textLength="50.3" lengthAdjust="spacingAndGlyphs">Jun</text>
<text x="501.4" y="1641.2" font-size="61" class="cal b" fill="#000" textLength="404.1" lengthAdjust="spacingAndGlyphs">Last 12 Months</text>
</g>
</svg></body></html>
